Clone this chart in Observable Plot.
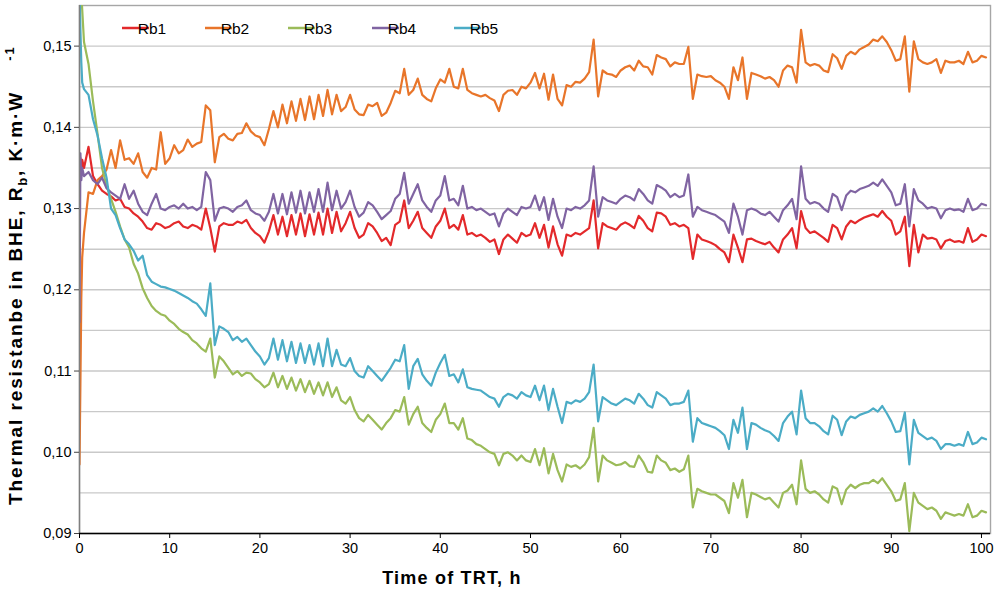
<!DOCTYPE html>
<html><head><meta charset="utf-8">
<script src="https://cdn.jsdelivr.net/npm/d3@7"></script>
<script src="https://cdn.jsdelivr.net/npm/@observablehq/plot@0.6"></script>
<style>
html,body{margin:0;padding:0;background:#fff;}
#chart{position:relative;width:997px;height:589px;}
</style></head><body><div id="chart"></div>
<script>
const seriesNames = ["Rb1", "Rb2", "Rb3", "Rb4", "Rb5"];
const seriesColors = ["#e3292b", "#e8752a", "#9bbb59", "#8064a2", "#4bacc6"];

// time stamps, h (dense at the very start, then every 0.5 h)
const hours = [0, 0.1, 0.2, 0.3, ...d3.range(1, 202).map(i => i / 2)];

const rb1 = [0.1345, 0.1362, 0.1350, 0.1360,
  0.1350, 0.1376, 0.1340, 0.1330, 0.1322, 0.1318, 0.1315, 0.1310, 0.1312, 0.1302,
  0.1300, 0.1294, 0.1290, 0.1284, 0.1276, 0.1274, 0.1282, 0.1280, 0.1276, 0.1278,
  0.1282, 0.1284, 0.1278, 0.1276, 0.1280, 0.1278, 0.1274, 0.1300, 0.1276, 0.1247,
  0.1278, 0.1282, 0.1280, 0.1280, 0.1284, 0.1282, 0.1286, 0.1276, 0.1270, 0.1266,
  0.1258, 0.1272, 0.1292, 0.1268, 0.1290, 0.1266, 0.1292, 0.1268, 0.1294, 0.1266,
  0.1293, 0.1268, 0.1295, 0.1268, 0.1300, 0.1270, 0.1296, 0.1272, 0.1282, 0.1296,
  0.1276, 0.1264, 0.1268, 0.1282, 0.1278, 0.1270, 0.1260, 0.1264, 0.1255, 0.1280,
  0.1284, 0.1310, 0.1276, 0.1285, 0.1296, 0.1276, 0.1270, 0.1264, 0.1278, 0.1285,
  0.1300, 0.1276, 0.1280, 0.1274, 0.1292, 0.1268, 0.1270, 0.1266, 0.1268, 0.1264,
  0.1259, 0.1262, 0.1244, 0.1262, 0.1268, 0.1263, 0.1258, 0.1270, 0.1266, 0.1268,
  0.1282, 0.1264, 0.1280, 0.1252, 0.1278, 0.1256, 0.1242, 0.1268, 0.1266, 0.1270,
  0.1268, 0.1272, 0.1276, 0.1310, 0.1251, 0.1282, 0.1278, 0.1276, 0.1274, 0.1280,
  0.1283, 0.1280, 0.1276, 0.1291, 0.1285, 0.1276, 0.1272, 0.1295, 0.1294, 0.1290,
  0.1280, 0.1282, 0.1278, 0.1280, 0.1276, 0.1238, 0.1268, 0.1262, 0.1260, 0.1258,
  0.1255, 0.1250, 0.1246, 0.1234, 0.1268, 0.1252, 0.1234, 0.1262, 0.1263, 0.1260,
  0.1258, 0.1256, 0.1259, 0.1252, 0.1246, 0.1262, 0.1268, 0.1276, 0.1251, 0.1297,
  0.1276, 0.1270, 0.1272, 0.1268, 0.1264, 0.1259, 0.1280, 0.1276, 0.1262, 0.1278,
  0.1285, 0.1282, 0.1286, 0.1289, 0.1291, 0.1293, 0.1290, 0.1297, 0.1290, 0.1285,
  0.1268, 0.1272, 0.1290, 0.1229, 0.1280, 0.1246, 0.1268, 0.1263, 0.1264, 0.1262,
  0.1251, 0.1260, 0.1262, 0.1259, 0.1260, 0.1258, 0.1276, 0.1259, 0.1262, 0.1268,
  0.1266];

const rb2 = [0.0985, 0.1085, 0.1190, 0.1240,
  0.1270, 0.1320, 0.1318, 0.1335, 0.1340, 0.1348, 0.1372, 0.1350, 0.1384, 0.1360,
  0.1362, 0.1355, 0.1368, 0.1345, 0.1338, 0.1350, 0.1348, 0.1394, 0.1355, 0.1362,
  0.1378, 0.1368, 0.1372, 0.1385, 0.1376, 0.1380, 0.1382, 0.1427, 0.1421, 0.1357,
  0.1388, 0.1392, 0.1386, 0.1384, 0.1392, 0.1393, 0.1405, 0.1395, 0.1390, 0.1388,
  0.1378, 0.1398, 0.1420, 0.1400, 0.1428, 0.1405, 0.1432, 0.1408, 0.1435, 0.1409,
  0.1438, 0.1410, 0.1440, 0.1414, 0.1446, 0.1416, 0.1440, 0.1420, 0.1425, 0.1440,
  0.1422, 0.1416, 0.1415, 0.1428, 0.1426, 0.1430, 0.1414, 0.1418, 0.1430, 0.1445,
  0.1442, 0.1472, 0.1440, 0.1446, 0.1460, 0.1440, 0.1435, 0.1432, 0.1448, 0.1459,
  0.1455, 0.1472, 0.1450, 0.1448, 0.1472, 0.1446, 0.1442, 0.1440, 0.1438, 0.1440,
  0.1436, 0.1433, 0.1420, 0.1440, 0.1445, 0.1446, 0.1440, 0.1450, 0.1448, 0.1455,
  0.1467, 0.1448, 0.1466, 0.1434, 0.1465, 0.1435, 0.1427, 0.1452, 0.1450, 0.1456,
  0.1455, 0.1460, 0.1468, 0.1508, 0.1438, 0.1470, 0.1466, 0.1465, 0.1462, 0.1470,
  0.1474, 0.1476, 0.1470, 0.1482, 0.1475, 0.1474, 0.1465, 0.1489, 0.1486, 0.1484,
  0.1475, 0.1480, 0.1478, 0.1478, 0.1499, 0.1435, 0.1465, 0.1463, 0.1462, 0.1463,
  0.1458, 0.1455, 0.1450, 0.1435, 0.1474, 0.1458, 0.1486, 0.1435, 0.1467, 0.1465,
  0.1463, 0.1460, 0.1462, 0.1458, 0.1450, 0.1470, 0.1476, 0.1474, 0.1455, 0.1520,
  0.1480, 0.1476, 0.1478, 0.1476, 0.1470, 0.1468, 0.1490, 0.1485, 0.1472, 0.1488,
  0.1493, 0.1490, 0.1496, 0.1499, 0.1502, 0.1508, 0.1506, 0.1512, 0.1505, 0.1495,
  0.1482, 0.1484, 0.1512, 0.1444, 0.1506, 0.1484, 0.1480, 0.1478, 0.1480, 0.1484,
  0.1467, 0.1482, 0.1480, 0.1480, 0.1482, 0.1478, 0.1493, 0.1480, 0.1482, 0.1488,
  0.1486];

const rb3 = [0.1580, 0.1575, 0.1565, 0.1545,
  0.1505, 0.1478, 0.1432, 0.1392, 0.1350, 0.1328, 0.1312, 0.1296, 0.1278, 0.1262,
  0.1252, 0.1232, 0.1220, 0.1202, 0.1190, 0.1180, 0.1174, 0.1170, 0.1168, 0.1162,
  0.1158, 0.1152, 0.1148, 0.1145, 0.1138, 0.1134, 0.1128, 0.1124, 0.1140, 0.1092,
  0.1118, 0.1112, 0.1104, 0.1096, 0.1100, 0.1094, 0.1098, 0.1097, 0.1090, 0.1086,
  0.1080, 0.1084, 0.1098, 0.1080, 0.1094, 0.1078, 0.1092, 0.1076, 0.1090, 0.1074,
  0.1088, 0.1072, 0.1086, 0.1070, 0.1086, 0.1068, 0.1080, 0.1064, 0.1060, 0.1068,
  0.1052, 0.1042, 0.1038, 0.1046, 0.1040, 0.1034, 0.1028, 0.1036, 0.1042, 0.1052,
  0.1050, 0.1068, 0.1034, 0.1047, 0.1056, 0.1036, 0.1030, 0.1025, 0.1040, 0.1047,
  0.1060, 0.1036, 0.1036, 0.1028, 0.1042, 0.1017, 0.1015, 0.1010, 0.1008, 0.1004,
  0.1000, 0.0998, 0.0984, 0.0998, 0.1000, 0.0996, 0.0990, 0.0996, 0.0990, 0.0988,
  0.1004, 0.0984, 0.1005, 0.0974, 0.0998, 0.0978, 0.0964, 0.0985, 0.0982, 0.0984,
  0.0980, 0.0985, 0.0994, 0.1030, 0.0964, 0.0996, 0.0990, 0.0987, 0.0984, 0.0985,
  0.0988, 0.0983, 0.0982, 0.0996, 0.0988, 0.0976, 0.0975, 0.0996, 0.0990, 0.0987,
  0.0978, 0.0980, 0.0976, 0.0979, 0.0996, 0.0932, 0.0955, 0.0952, 0.0950, 0.0948,
  0.0948, 0.0944, 0.0940, 0.0925, 0.0962, 0.0944, 0.0966, 0.0920, 0.0950, 0.0948,
  0.0945, 0.0942, 0.0944, 0.0938, 0.0932, 0.0950, 0.0953, 0.0960, 0.0936, 0.0990,
  0.0955, 0.0950, 0.0952, 0.0948, 0.0942, 0.0938, 0.0958, 0.0955, 0.0936, 0.0954,
  0.0960, 0.0956, 0.0960, 0.0962, 0.0962, 0.0966, 0.0962, 0.0968, 0.0960, 0.0952,
  0.0940, 0.0942, 0.0962, 0.0903, 0.0950, 0.0938, 0.0934, 0.0930, 0.0932, 0.0928,
  0.0918, 0.0926, 0.0924, 0.0922, 0.0924, 0.0922, 0.0936, 0.0920, 0.0922, 0.0928,
  0.0926];

const rb4 = [0.1160, 0.1368, 0.1335, 0.1350,
  0.1340, 0.1345, 0.1335, 0.1330, 0.1338, 0.1325, 0.1320, 0.1316, 0.1312, 0.1330,
  0.1312, 0.1322, 0.1306, 0.1296, 0.1292, 0.1306, 0.1318, 0.1300, 0.1298, 0.1302,
  0.1304, 0.1300, 0.1306, 0.1300, 0.1302, 0.1298, 0.1302, 0.1345, 0.1335, 0.1285,
  0.1300, 0.1302, 0.1300, 0.1296, 0.1302, 0.1304, 0.1310, 0.1298, 0.1294, 0.1292,
  0.1285, 0.1296, 0.1318, 0.1294, 0.1318, 0.1293, 0.1320, 0.1295, 0.1322, 0.1294,
  0.1320, 0.1296, 0.1324, 0.1296, 0.1332, 0.1298, 0.1322, 0.1300, 0.1308, 0.1322,
  0.1302, 0.1290, 0.1295, 0.1308, 0.1304, 0.1296, 0.1287, 0.1292, 0.1297, 0.1312,
  0.1318, 0.1344, 0.1306, 0.1318, 0.1330, 0.1310, 0.1302, 0.1296, 0.1310, 0.1316,
  0.1340, 0.1310, 0.1312, 0.1304, 0.1328, 0.1300, 0.1302, 0.1298, 0.1300, 0.1296,
  0.1292, 0.1294, 0.1278, 0.1294, 0.1300, 0.1296, 0.1292, 0.1302, 0.1300, 0.1302,
  0.1316, 0.1298, 0.1314, 0.1286, 0.1312, 0.1290, 0.1276, 0.1300, 0.1298, 0.1302,
  0.1300, 0.1304, 0.1310, 0.1352, 0.1290, 0.1314, 0.1310, 0.1308, 0.1306, 0.1312,
  0.1316, 0.1314, 0.1310, 0.1324, 0.1318, 0.1310, 0.1306, 0.1329, 0.1326, 0.1322,
  0.1314, 0.1318, 0.1314, 0.1316, 0.1342, 0.1290, 0.1302, 0.1298, 0.1296, 0.1294,
  0.1292, 0.1288, 0.1284, 0.1270, 0.1306, 0.1290, 0.1268, 0.1298, 0.1300, 0.1298,
  0.1294, 0.1292, 0.1296, 0.1290, 0.1284, 0.1298, 0.1304, 0.1312, 0.1287, 0.1352,
  0.1312, 0.1306, 0.1308, 0.1306, 0.1300, 0.1296, 0.1318, 0.1314, 0.1298, 0.1316,
  0.1322, 0.1320, 0.1324, 0.1326, 0.1328, 0.1332, 0.1328, 0.1336, 0.1328, 0.1320,
  0.1304, 0.1306, 0.1330, 0.1278, 0.1324, 0.1310, 0.1306, 0.1300, 0.1302, 0.1300,
  0.1288, 0.1298, 0.1300, 0.1298, 0.1299, 0.1296, 0.1312, 0.1298, 0.1300, 0.1306,
  0.1304];

const rb5 = [0.1580, 0.1520, 0.1480, 0.1455,
  0.1447, 0.1440, 0.1410, 0.1390, 0.1362, 0.1338, 0.1300, 0.1292, 0.1276, 0.1262,
  0.1256, 0.1248, 0.1236, 0.1242, 0.1218, 0.1210, 0.1207, 0.1204, 0.1203, 0.1201,
  0.1199, 0.1196, 0.1193, 0.1190, 0.1186, 0.1183, 0.1176, 0.1168, 0.1208, 0.1132,
  0.1155, 0.1152, 0.1148, 0.1138, 0.1142, 0.1136, 0.1140, 0.1132, 0.1124, 0.1118,
  0.1108, 0.1116, 0.1140, 0.1114, 0.1138, 0.1112, 0.1136, 0.1110, 0.1134, 0.1110,
  0.1132, 0.1108, 0.1134, 0.1106, 0.1140, 0.1106, 0.1126, 0.1108, 0.1106, 0.1116,
  0.1100, 0.1094, 0.1092, 0.1106, 0.1100, 0.1094, 0.1088, 0.1096, 0.1104, 0.1114,
  0.1112, 0.1132, 0.1078, 0.1106, 0.1115, 0.1096, 0.1088, 0.1082, 0.1098, 0.1110,
  0.1120, 0.1094, 0.1096, 0.1086, 0.1102, 0.1080, 0.1078, 0.1077, 0.1076, 0.1072,
  0.1068, 0.1066, 0.1056, 0.1068, 0.1072, 0.1070, 0.1066, 0.1074, 0.1070, 0.1068,
  0.1082, 0.1064, 0.1082, 0.1052, 0.1078, 0.1056, 0.1036, 0.1062, 0.1060, 0.1064,
  0.1062, 0.1066, 0.1074, 0.1108, 0.1038, 0.1068, 0.1064, 0.1060, 0.1058, 0.1062,
  0.1066, 0.1064, 0.1060, 0.1072, 0.1066, 0.1058, 0.1055, 0.1074, 0.1070, 0.1066,
  0.1058, 0.1060, 0.1060, 0.1062, 0.1076, 0.1013, 0.1042, 0.1036, 0.1034, 0.1032,
  0.1030, 0.1026, 0.1021, 0.1004, 0.1040, 0.1024, 0.1055, 0.1004, 0.1036, 0.1034,
  0.1030, 0.1027, 0.1025, 0.1020, 0.1014, 0.1036, 0.1044, 0.1050, 0.1022, 0.1076,
  0.1042, 0.1036, 0.1036, 0.1032, 0.1026, 0.1022, 0.1045, 0.1040, 0.1021, 0.1038,
  0.1044, 0.1042, 0.1046, 0.1048, 0.1050, 0.1054, 0.1050, 0.1057, 0.1048, 0.1038,
  0.1025, 0.1026, 0.1049, 0.0985, 0.1040, 0.1024, 0.1020, 0.1016, 0.1018, 0.1014,
  0.1004, 0.1010, 0.1010, 0.1008, 0.1010, 0.1008, 0.1025, 0.1010, 0.1012, 0.1018,
  0.1016];

const xTicks = [0, 10, 20, 30, 40, 50, 60, 70, 80, 90, 100];
const yTicks = [0.09, 0.10, 0.11, 0.12, 0.13, 0.14, 0.15];
const yGrid = [0.095, 0.10, 0.105, 0.11, 0.115, 0.12, 0.125, 0.13, 0.135, 0.14, 0.145, 0.15];

const seriesValues = [rb1, rb2, rb3, rb4, rb5];
const rows = [];
seriesNames.forEach((name, k) => {
  seriesValues[k].forEach((v, i) => rows.push({series: name, t: hours[i], v}));
});

const fmt = d => d.toFixed(2).replace(".", ",");
const FONT = "'Liberation Sans', Arial, sans-serif";

const chart = Plot.plot({
  width: 997, height: 589,
  marginLeft: 79, marginRight: 7, marginTop: 5, marginBottom: 56,
  x: {domain: [0, 101], label: null},
  y: {domain: [0.09, 0.155], label: null},
  color: {domain: seriesNames, range: seriesColors},
  style: {fontFamily: FONT, fontSize: "14.5px", color: "#000", background: "#fff"},
  marks: [
    Plot.gridY(yGrid, {stroke: "#c9c9c9", strokeOpacity: 1, strokeWidth: 1.4}),
    Plot.frame({stroke: "#a6a6a6", strokeWidth: 1.4}),
    Plot.line(rows, {x: "t", y: "v", z: "series", stroke: "series", strokeWidth: 2.2, clip: true, strokeLinejoin: "round"}),
    Plot.ruleX([0], {stroke: "#7f7f7f", strokeWidth: 1.4}),
    Plot.ruleY([0.09], {stroke: "#000", strokeWidth: 1.4}),
    Plot.axisY(yTicks, {tickFormat: fmt, tickSize: 5, tickPadding: 3, stroke: "#444", fontSize: 14.5, label: null}),
    Plot.axisX(xTicks, {tickSize: 5, tickPadding: 4, stroke: "#000", fontSize: 14.5, label: null})
  ]
});

const svg = d3.select(chart);
// legend
const legendX = [122, 205, 288, 372, 454];
const lg = svg.append("g").attr("font-family", FONT).attr("font-size", 15.5);
seriesNames.forEach((n, i) => {
  lg.append("line").attr("x1", legendX[i]).attr("x2", legendX[i] + 27)
    .attr("y1", 28).attr("y2", 28).attr("stroke", seriesColors[i]).attr("stroke-width", 2.5);
  lg.append("text").attr("x", legendX[i] + 30).attr("y", 28).attr("dy", "0.36em").attr("fill", "#000").text(n);
});

// axis titles
svg.append("text").attr("x", 452).attr("y", 578).attr("dy", "0.35em")
  .attr("text-anchor", "middle").attr("font-family", FONT).attr("font-weight", "bold")
  .attr("font-size", 18).attr("letter-spacing", 1.2).attr("fill", "#000").text("Time of TRT, h");

const yl = svg.append("text").attr("transform", "translate(22,505) rotate(-90)")
  .attr("text-anchor", "start").attr("font-family", FONT).attr("font-weight", "bold")
  .attr("font-size", 19).attr("letter-spacing", 1.9).attr("fill", "#000");
yl.append("tspan").text("Thermal resistanbe in BHE, R");
yl.append("tspan").attr("font-size", 13).attr("dy", 5).text("b");
yl.append("tspan").attr("dy", -5).text(", K·m·W");
yl.append("tspan").attr("font-size", 13).attr("dx", 30).attr("dy", -8).text("-1");

document.getElementById("chart").appendChild(chart);
</script>
</body></html>
